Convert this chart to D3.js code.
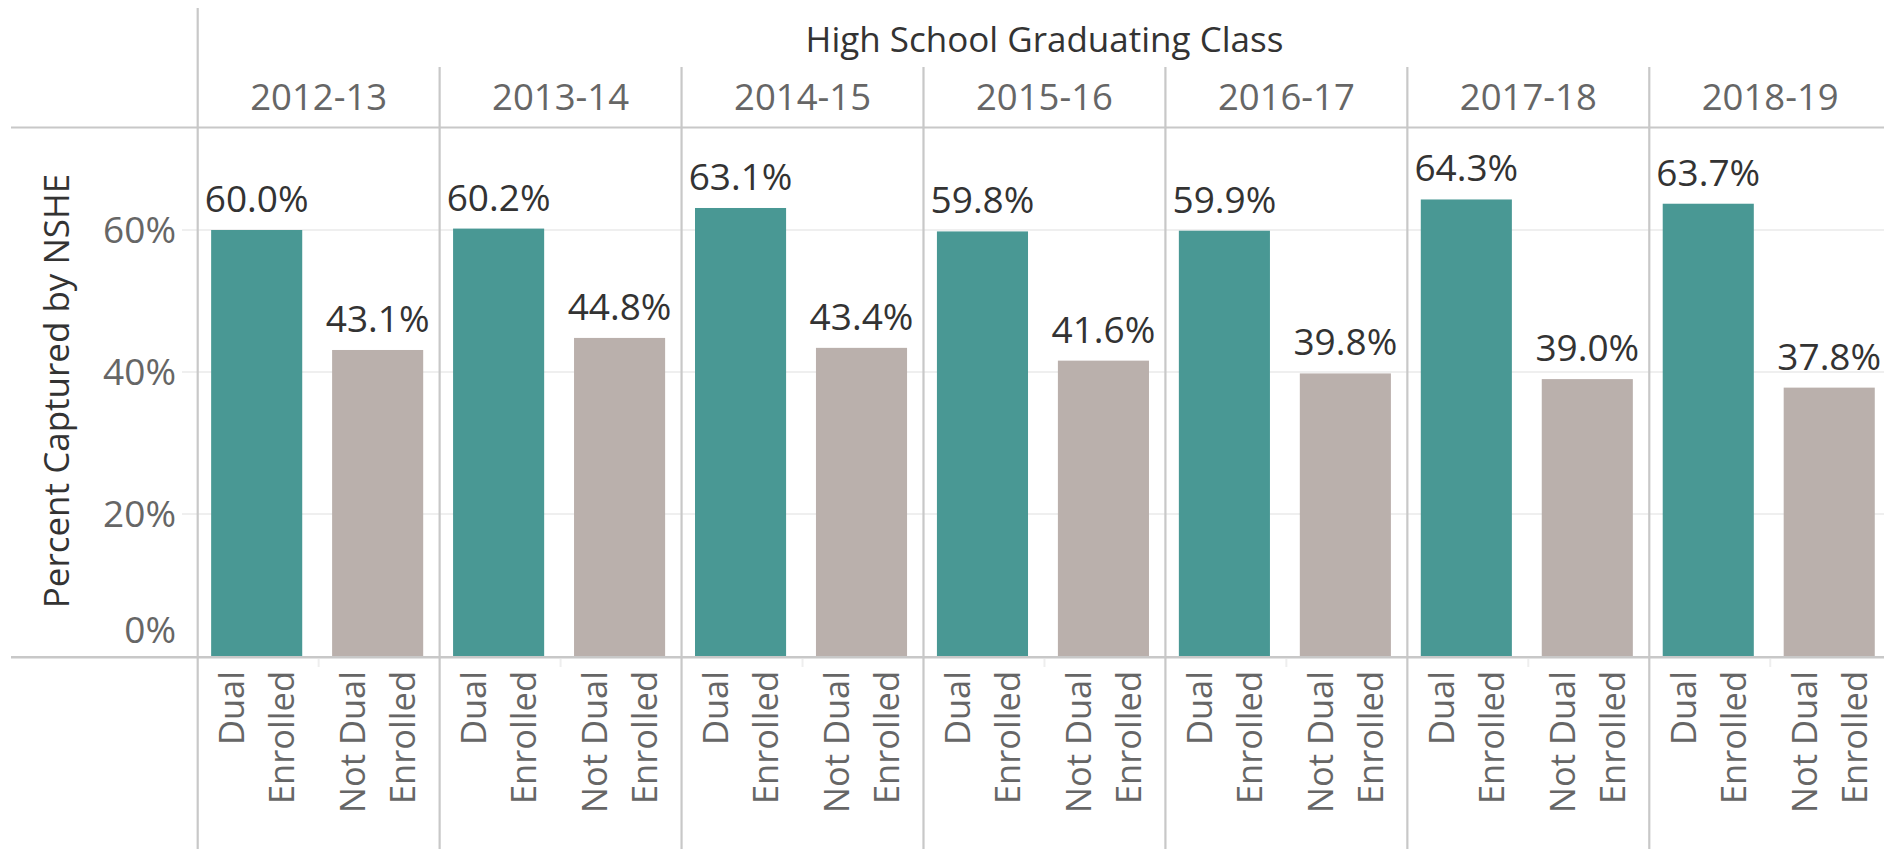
<!DOCTYPE html>
<html>
<head>
<meta charset="utf-8">
<script src="https://cdn.jsdelivr.net/npm/d3@7"></script>
<style>
  html, body { margin: 0; padding: 0; background: #fff; overflow: hidden; }
  svg { display: block; font-family: "Open Sans", sans-serif; }
</style>
</head>
<body>
<svg id="chart" width="1884" height="849"></svg>
<script>
// ---- data ----
const classes = ["2012-13", "2013-14", "2014-15", "2015-16", "2016-17", "2017-18", "2018-19"];
const groups = ["Dual Enrolled", "Not Dual Enrolled"];
const groupLines = [["Dual", "Enrolled"], ["Not Dual", "Enrolled"]];
const dualValues = [60.0, 60.2, 63.1, 59.8, 59.9, 64.3, 63.7];
const notDualValues = [43.1, 44.8, 43.4, 41.6, 39.8, 39.0, 37.8];
const yTicks = [0, 20, 40, 60];
const headerTitle = "High School Graduating Class";
const yTitle = "Percent Captured by NSHE";

const colors = { "Dual Enrolled": "#499894", "Not Dual Enrolled": "#BAB0AC" };

const data = [];
classes.forEach((c, i) => {
  data.push({ cls: c, group: groups[0], value: dualValues[i] });
  data.push({ cls: c, group: groups[1], value: notDualValues[i] });
});

// ---- layout ----
const svg = d3.select("#chart");
const panelLeft = 197.7, panelW = 241.93;
const plotTop = 127, zeroY = 656;
const lineColor = "#c8c8c8";

const x = d3.scaleBand().domain(classes).range([panelLeft, panelLeft + panelW * classes.length]);
const xi = d3.scaleBand().domain(groups).range([-1.5, panelW - 1.5]).paddingInner(0.247).paddingOuter(0.1235);
const y = d3.scaleLinear().domain([0, 60]).range([zeroY, 230]);

// gridlines
svg.append("g").selectAll("line").data(yTicks.filter(d => d > 0)).join("line")
  .attr("x1", 182).attr("x2", 1884)
  .attr("y1", d => y(d)).attr("y2", d => y(d))
  .attr("stroke", "#efefef").attr("stroke-width", 2);

// bars
svg.append("g").selectAll("rect").data(data).join("rect")
  .attr("x", d => x(d.cls) + xi(d.group))
  .attr("width", xi.bandwidth())
  .attr("y", d => y(d.value))
  .attr("height", d => zeroY - y(d.value))
  .attr("fill", d => colors[d.group]);

// value labels
svg.append("g").selectAll("text").data(data).join("text")
  .attr("x", d => x(d.cls) + xi(d.group) + xi.bandwidth() / 2)
  .attr("y", d => y(d.value) - 18)
  .attr("text-anchor", "middle")
  .attr("font-size", 37)
  .attr("fill", "#333")
  .text(d => d.value.toFixed(1) + "%");

// y axis tick labels
svg.append("g").selectAll("text").data(yTicks).join("text")
  .attr("x", 176)
  .attr("y", d => d === 0 ? 643 : y(d))
  .attr("dy", d => d === 0 ? 0 : "0.36em")
  .attr("text-anchor", "end")
  .attr("font-size", 37)
  .attr("fill", "#666")
  .text(d => d + "%");

// y title
svg.append("text")
  .attr("transform", "translate(56,391) rotate(-90)")
  .attr("dy", "0.36em")
  .attr("text-anchor", "middle")
  .attr("font-size", 35)
  .attr("fill", "#333")
  .text(yTitle);

// header title
svg.append("text")
  .attr("x", (x.range()[0] + x.range()[1]) / 2)
  .attr("y", 52)
  .attr("text-anchor", "middle")
  .attr("font-size", 35)
  .attr("fill", "#333")
  .text(headerTitle);

// year labels
svg.append("g").selectAll("text").data(classes).join("text")
  .attr("x", d => x(d) + x.bandwidth() / 2)
  .attr("y", 110)
  .attr("text-anchor", "middle")
  .attr("font-size", 36.5)
  .attr("fill", "#666")
  .text(d => d);

// category labels (rotated)
const catG = svg.append("g");
classes.forEach(c => {
  groups.forEach((g, gi) => {
    const cx = x(c) + xi(g) + xi.bandwidth() / 2;
    groupLines[gi].forEach((ln, li) => {
      catG.append("text")
        .attr("transform", `translate(${cx + (li === 0 ? -25 : 25)},671) rotate(-90)`)
        .attr("dy", "0.36em")
        .attr("text-anchor", "end")
        .attr("font-size", 34.5)
        .attr("fill", "#666")
        .text(ln);
    });
  });
});

// small sub-band separators below axis
svg.append("g").selectAll("line").data(classes).join("line")
  .attr("x1", d => x(d) + panelW / 2).attr("x2", d => x(d) + panelW / 2)
  .attr("y1", 659).attr("y2", 667)
  .attr("stroke", "#eeeeee").attr("stroke-width", 2);

// structural lines
svg.append("line").attr("x1", 11).attr("x2", 1884).attr("y1", 127.5).attr("y2", 127.5)
  .attr("stroke", lineColor).attr("stroke-width", 2.2);
svg.append("line").attr("x1", 11).attr("x2", 1884).attr("y1", 657.3).attr("y2", 657.3)
  .attr("stroke", lineColor).attr("stroke-width", 2.6);
svg.append("line").attr("x1", panelLeft).attr("x2", panelLeft).attr("y1", 8).attr("y2", 849)
  .attr("stroke", lineColor).attr("stroke-width", 2.2);
svg.append("g").selectAll("line").data(classes.slice(1)).join("line")
  .attr("x1", d => x(d)).attr("x2", d => x(d))
  .attr("y1", 67).attr("y2", 849)
  .attr("stroke", lineColor).attr("stroke-width", 2.2);
</script>
</body>
</html>
